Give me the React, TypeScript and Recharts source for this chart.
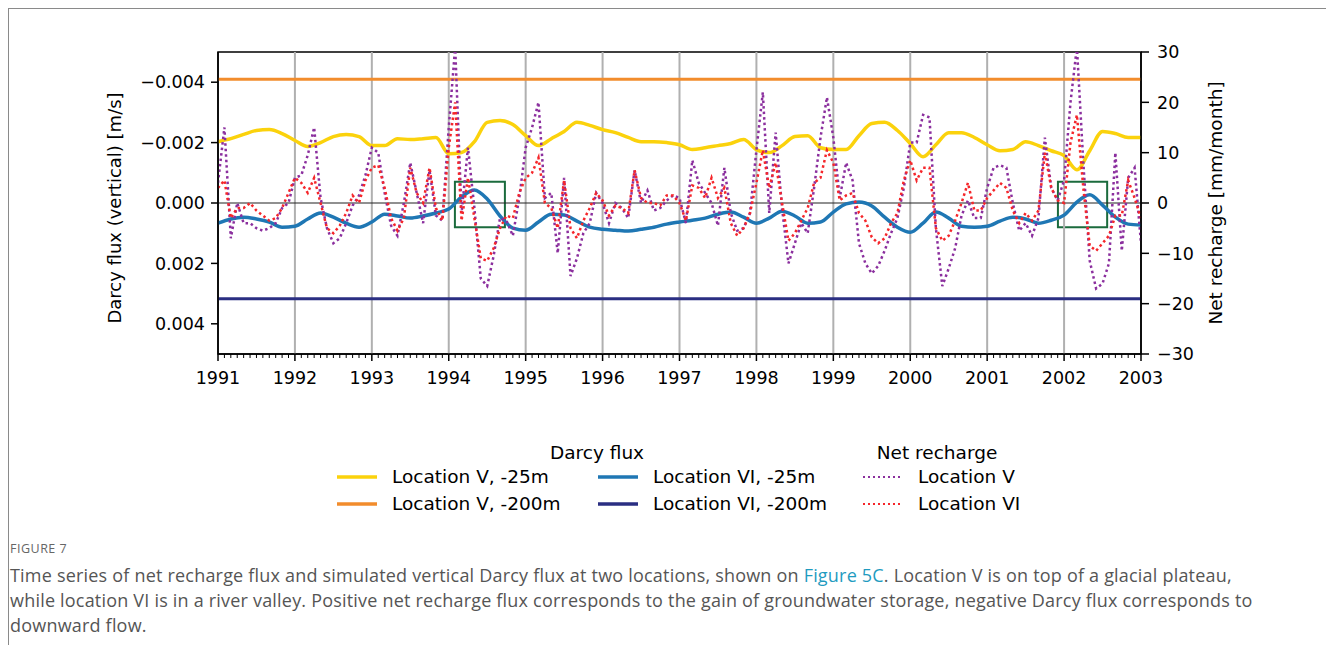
import React from 'react';
import { LineChart, Line, XAxis, YAxis, ReferenceLine, ReferenceArea } from 'recharts';

// Net recharge [mm/month], monthly from Jan 1991 to Jan 2003
const rechargeLocV = [
  4, 15, -7, 0, -4, -4, -5, -5.5, -5, -4, -1, 0,
  5, 5.5, 9.5, 15, 1, -5, -8, -7, -4, -0.5, 1.5, 5.5,
  11, 10, 2, -4.5, -6.5, 0, 8, 2, -4, 6.5, -2.5, -3.5,
  15, 31, -2, 11, -1, -15, -16.5, -10.5, -3, -3.5, -6.5, 1,
  11, 15, 20, 1, 2, -10, 5, -14.5, -11, -6, -4, 2,
  0, -4, 0, -1, -3, 6.5, 0, 2.5, -1.5, -1, 0.5, 1.5,
  1, -4, 8.5, 4, 2, 0, -4.5, 7, -2, -5.5, -5, -2,
  10.5, 22, -2, 14, -1, -12, -8, -4, -6, 3, 13, 21,
  13, 1, 8, 4.5, -8, -12, -14, -12.5, -9.5, -6, -3, 3,
  12, 12, 17.5, 17, -5, -16.5, -13, -9, -2.5, 0.5, -3, -3,
  3, 7, 7.5, 7, 0, -5.5, -4, -6.5, -3, 13, 3, 0.5,
  4.5, 20, 31, 8, -11.5, -17, -16, -12, 10, -9.5, 5, 7,
  -8,
];

const rechargeLocVI = [
  3, 4.5, -3, -1, -1, 0, -1.5, -2.5, -3.5, -3, -1, 2,
  5, 4, 2, 5, 0, -5, -6, -4.5, -2, 1.5, 0, 4.5,
  7, 7.5, 3, -3, -5.5, -3, 7, 2, 0, 7, -1, -3.5,
  11, 20, -3.5, 5, -3, -11, -11.5, -9, -5, -2.5, -3, 2,
  5, 6, 9, 0, -1, -5, 4.5, -5, -7, -3.5, -1, 2,
  0.5, -2.5, -0.5, -1, -2, 6.5, 1, 0, 0, -0.5, 1.5, 1.5,
  0, -3.5, 3.5, 3, 1, 5, 1, 3, -4, -6.5, -5, -2,
  4, 10.5, 3, 8, 0, -7.5, -6, -3.5, -1, 4, 5, 10.5,
  8, 0.5, 1.5, 2, -2, -3.5, -6.8, -8, -7, -4, -2, 4.5,
  8.5, 4.5, 7, 7, -5, -7.5, -6.5, -3.5, 0, 4, -1.5, -1.5,
  1, 2.5, 4, 3, -1.5, -4, -2, -3.5, -1.5, 10, 3, 0.5,
  0, 12, 17.5, 3, -8.5, -9.5, -8, -6.5, -2.5, -2.5, 4.5, 1,
  -3,
];

// Darcy flux [10^-3 m/s], every two months from Jan 1991 to Jan 2003
const darcyLocV25 = [
  -2.03, -2.13, -2.27, -2.4, -2.43, -2.3, -2.07, -1.87, -2.0, -2.2, -2.27, -2.2,
  -1.9, -1.9, -2.13, -2.1, -2.13, -2.17, -1.63, -1.67, -2.03, -2.67, -2.73, -2.6,
  -2.23, -1.9, -2.13, -2.37, -2.67, -2.57, -2.43, -2.33, -2.17, -2.03, -2.03, -2.0,
  -1.93, -1.77, -1.83, -1.9, -1.97, -2.1, -1.77, -1.67, -1.9, -2.2, -2.23, -1.83,
  -1.77, -1.77, -2.23, -2.63, -2.67, -2.4, -1.97, -1.53, -1.93, -2.33, -2.33, -2.17,
  -1.93, -1.73, -1.77, -2.03, -1.9, -1.73, -1.57, -1.1, -1.73, -2.37, -2.3, -2.17,
  -2.17,
];

const darcyLocVI25 = [
  0.67, 0.53, 0.47, 0.53, 0.63, 0.8, 0.77, 0.53, 0.33, 0.47, 0.67, 0.8,
  0.63, 0.37, 0.43, 0.5, 0.43, 0.33, 0.2, -0.2, -0.43, -0.13, 0.43, 0.83,
  0.9, 0.63, 0.37, 0.4, 0.6, 0.8, 0.87, 0.9, 0.93, 0.87, 0.8, 0.7,
  0.63, 0.57, 0.5, 0.37, 0.3, 0.47, 0.67, 0.5, 0.27, 0.43, 0.67, 0.63,
  0.3, 0.03, -0.03, 0.1, 0.47, 0.8, 0.97, 0.67, 0.3, 0.5, 0.77, 0.8,
  0.77, 0.6, 0.47, 0.53, 0.67, 0.57, 0.4, -0.03, -0.27, 0.07, 0.47, 0.7,
  0.73,
];

const darcyLocV200 = -4.1;
const darcyLocVI200 = 3.17;

const yearTicks = [1991, 1992, 1993, 1994, 1995, 1996, 1997, 1998, 1999, 2000, 2001, 2002, 2003];
const fluxTicks = [-0.004, -0.002, 0, 0.002, 0.004];
const rechargeTicks = [-30, -20, -10, 0, 10, 20, 30];

// highlighted windows [start, end] in years
const boxes = [
  [1994.08, 1994.73],
  [2001.92, 2002.56],
];

const monthTicks = yearTicks
  .slice(0, -1)
  .flatMap((y) => Array.from({ length: 12 }, (_, m) => y + m / 12))
  .concat([2003]);

const rechargeRows = rechargeLocV.map((v, i) => ({ t: 1991 + i / 12, v, vi: rechargeLocVI[i] }));
const darcyRows = darcyLocV25.map((v, i) => ({ t: 1991 + i / 6, v: v / 1000, vi: darcyLocVI25[i] / 1000 }));
const deepRows = [1991, 2003].map((t) => ({ t, v: darcyLocV200 / 1000, vi: darcyLocVI200 / 1000 }));

const FONT = '"DejaVu Sans", sans-serif';
const TICK_FS = 17.5;
const C_YELLOW = '#fbd20c';
const C_ORANGE = '#f28c2c';
const C_BLUE = '#1f77b4';
const C_NAVY = '#2a2e82';
const C_PURPLE = '#8b2f9e';
const C_RED = '#f5262a';

const minus = (s: string) => s.replace('-', '\u2212');

function YearTick(props: any) {
  const { x, y, payload } = props;
  const v = payload.value;
  const major = Math.abs(v - Math.round(v)) < 1e-6;
  return (
    <g>
      <line x1={x} x2={x} y1={y} y2={y + (major ? 7 : 4)} stroke="#000" strokeWidth={major ? 1.5 : 1} />
      {major && (
        <text x={x} y={y + 30} textAnchor="middle" fontSize={TICK_FS} fill="#000" fontFamily={FONT}>
          {Math.round(v)}
        </text>
      )}
    </g>
  );
}

function LegendLine({ color, dotted }: { color: string; dotted?: boolean }) {
  return (
    <svg width={40} height={6} style={{ display: 'block' }}>
      <line
        x1={0}
        x2={40}
        y1={3}
        y2={3}
        stroke={color}
        strokeWidth={dotted ? 2 : 3.5}
        strokeDasharray={dotted ? '2 3' : undefined}
      />
    </svg>
  );
}

function LegendItem({ left, top, color, dotted, label }: any) {
  return (
    <div style={{ position: 'absolute', left, top, display: 'flex', alignItems: 'center', whiteSpace: 'nowrap' }}>
      <LegendLine color={color} dotted={dotted} />
      <span style={{ marginLeft: 15, fontSize: 18.5 }}>{label}</span>
    </div>
  );
}

export default function App() {
  return (
    <div style={{ position: 'absolute', left: 0, top: 0, width: 1326, height: 645, background: '#fff', fontFamily: FONT, color: '#000' }}>
      <div style={{ position: 'absolute', left: 8, top: 8, width: 1318, height: 637, borderTop: '1px solid #8a8a8a', borderLeft: '1px solid #8a8a8a' }} />

      <div style={{ position: 'absolute', left: 0, top: 0 }}>
        <LineChart width={1326} height={400} margin={{ top: 52, right: 105, bottom: 6, left: 108 }}>
          <XAxis
            dataKey="t"
            type="number"
            domain={[1991, 2003]}
            allowDataOverflow
            ticks={monthTicks}
            interval={0}
            tick={<YearTick />}
            tickLine={false}
            tickSize={0}
            tickMargin={0}
            height={40}
            axisLine={{ stroke: '#000', strokeWidth: 1.5 }}
          />
          <YAxis
            yAxisId="left"
            orientation="left"
            width={110}
            domain={[-0.005, 0.005]}
            reversed
            allowDataOverflow
            ticks={fluxTicks}
            interval={0}
            tickFormatter={(v: number) => minus(v.toFixed(3))}
            tick={{ fill: '#000', fontSize: TICK_FS, fontFamily: FONT }}
            tickSize={7}
            tickMargin={6}
            tickLine={{ stroke: '#000', strokeWidth: 1.5 }}
            axisLine={{ stroke: '#000', strokeWidth: 1.5 }}
          />
          <YAxis
            yAxisId="right"
            orientation="right"
            width={80}
            domain={[-30, 30]}
            allowDataOverflow
            ticks={rechargeTicks}
            interval={0}
            tickFormatter={(v: number) => minus(String(v))}
            tick={{ fill: '#000', fontSize: TICK_FS, fontFamily: FONT }}
            tickSize={8}
            tickMargin={8}
            tickLine={{ stroke: '#000', strokeWidth: 1.5 }}
            axisLine={{ stroke: '#000', strokeWidth: 1.5 }}
          />

          {yearTicks.slice(1, -1).map((y) => (
            <ReferenceLine key={y} x={y} yAxisId="left" stroke="#b0b0b0" strokeWidth={2} />
          ))}
          <ReferenceLine y={0} yAxisId="left" stroke="#222" strokeWidth={1.2} />

          <Line data={deepRows} yAxisId="left" dataKey="v" type="linear" stroke={C_ORANGE} strokeWidth={3} dot={false} isAnimationActive={false} />
          <Line data={deepRows} yAxisId="left" dataKey="vi" type="linear" stroke={C_NAVY} strokeWidth={3} dot={false} isAnimationActive={false} />
          <Line data={darcyRows} yAxisId="left" dataKey="v" type="monotone" stroke={C_YELLOW} strokeWidth={3.5} dot={false} isAnimationActive={false} />
          <Line data={darcyRows} yAxisId="left" dataKey="vi" type="monotone" stroke={C_BLUE} strokeWidth={3.5} dot={false} isAnimationActive={false} />

          <Line data={rechargeRows} yAxisId="right" dataKey="v" type="linear" stroke={C_PURPLE} strokeWidth={2.5} strokeDasharray="2.5 3" dot={false} isAnimationActive={false} />
          <Line data={rechargeRows} yAxisId="right" dataKey="vi" type="linear" stroke={C_RED} strokeWidth={2.5} strokeDasharray="2.5 3" dot={false} isAnimationActive={false} />

          {boxes.map(([a, b]) => (
            <ReferenceArea key={a} x1={a} x2={b} y1={-0.0007} y2={0.0008} yAxisId="left" fill="none" stroke="#1b6b3d" strokeWidth={2} />
          ))}
          <ReferenceArea x1={1991} x2={2003} y1={-0.005} y2={0.005} yAxisId="left" fill="none" stroke="#000" strokeWidth={1.5} />
        </LineChart>
      </div>

      <div style={{ position: 'absolute', left: 114, top: 208, transform: 'translate(-50%, -50%) rotate(-90deg)', whiteSpace: 'nowrap', fontSize: 18 }}>
        Darcy flux (vertical) [m/s]
      </div>
      <div style={{ position: 'absolute', left: 1215, top: 203, transform: 'translate(-50%, -50%) rotate(-90deg)', whiteSpace: 'nowrap', fontSize: 18.5 }}>
        Net recharge [mm/month]
      </div>

      <div style={{ position: 'absolute', left: 597, top: 452, transform: 'translate(-50%, -50%)', fontSize: 18.5, whiteSpace: 'nowrap' }}>Darcy flux</div>
      <div style={{ position: 'absolute', left: 937, top: 452, transform: 'translate(-50%, -50%)', fontSize: 18.5, whiteSpace: 'nowrap' }}>Net recharge</div>
      <LegendItem left={337} top={466} color={C_YELLOW} label="Location V, -25m" />
      <LegendItem left={337} top={493} color={C_ORANGE} label="Location V, -200m" />
      <LegendItem left={598} top={466} color={C_BLUE} label="Location VI, -25m" />
      <LegendItem left={598} top={493} color={C_NAVY} label="Location VI, -200m" />
      <LegendItem left={863} top={466} color={C_PURPLE} dotted label="Location V" />
      <LegendItem left={863} top={493} color={C_RED} dotted label="Location VI" />

      <div style={{ position: 'absolute', left: 10, top: 540, fontFamily: '"Open Sans", sans-serif', fontSize: 12.5, letterSpacing: 0.5, color: '#666' }}>FIGURE 7</div>
      <div style={{ position: 'absolute', left: 10, top: 563, width: 1310, fontFamily: '"Open Sans", sans-serif', fontSize: 18, letterSpacing: 0.2, lineHeight: '25px', color: '#555', whiteSpace: 'nowrap' }}>
        Time series of net recharge flux and simulated vertical Darcy flux at two locations, shown on{' '}
        <span style={{ color: '#1f9bbf' }}>Figure 5C</span>. Location V is on top of a glacial plateau,
        <br />
        while location VI is in a river valley. Positive net recharge flux corresponds to the gain of groundwater storage, negative Darcy flux corresponds to
        <br />
        downward flow.
      </div>
    </div>
  );
}
